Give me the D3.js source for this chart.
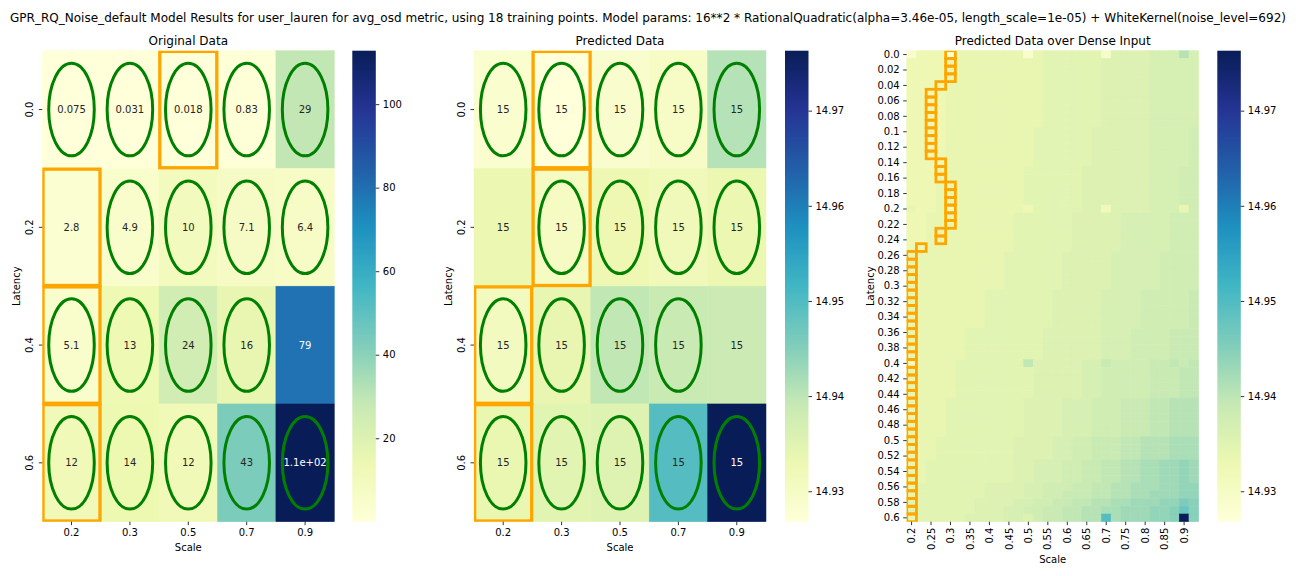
<!DOCTYPE html>
<html lang="en">
<head>
<meta charset="utf-8">
<script src="https://d3js.org/d3.v7.min.js"></script>
<style>
  body { margin: 0; background: #fff; }
  svg text { font-family: "DejaVu Sans", sans-serif; }
</style>
</head>
<body>
<svg width="1296" height="576"></svg>
<script>
const title = "GPR_RQ_Noise_default Model Results for user_lauren for avg_osd metric, using 18 training points. Model params: 16**2 * RationalQuadratic(alpha=3.46e-05, length_scale=1e-05) + WhiteKernel(noise_level=692)";

// coarse grid (scale x latency)
const scaleLabels = ["0.2", "0.3", "0.5", "0.7", "0.9"];
const latencyLabels = ["0.0", "0.2", "0.4", "0.6"];

const original = [
  [0.075, 0.031, 0.018, 0.83, 29],
  [2.8, 4.9, 10, 7.1, 6.4],
  [5.1, 13, 24, 16, 79],
  [12, 14, 12, 43, 112.8]
];

const predicted = [
  [14.9285, 14.9268, 14.9287, 14.9297, 14.9407],
  [14.9332, 14.9303, 14.9327, 14.9318, 14.9332],
  [14.9308, 14.9337, 14.9397, 14.9387, 14.9384],
  [14.9335, 14.9347, 14.9355, 14.9496, 14.9763]
];

// 1 = training point (green ellipse)
const trained = [
  [1, 1, 1, 1, 1],
  [0, 1, 1, 1, 1],
  [1, 1, 1, 1, 0],
  [1, 1, 1, 1, 1]
];

// orange boxes, [row, col]
const originalBoxes = [[0, 2], [1, 0], [2, 0], [3, 0]];
const predictedBoxes = [[0, 1], [1, 1], [2, 0], [3, 0]];

// dense grid: 61 latency rows x 30 scale columns
const denseXLabels = ["0.2", "0.25", "0.3", "0.35", "0.4", "0.45", "0.5", "0.55", "0.6", "0.65", "0.7", "0.75", "0.8", "0.85", "0.9"];
const denseYLabels = ["0.0", "0.02", "0.04", "0.06", "0.08", "0.1", "0.12", "0.14", "0.16", "0.18", "0.2",
  "0.22", "0.24", "0.26", "0.28", "0.3", "0.32", "0.34", "0.36", "0.38", "0.4",
  "0.42", "0.44", "0.46", "0.48", "0.5", "0.52", "0.54", "0.56", "0.58", "0.6"];

const denseBase = 14.9268, denseStep = 0.00099;
const levelChars = "0123456789abcdefghijklmnopqrstuvwxyzABCDEFGHIJKLMNOPQRSTUVWXYZ";
const denseRows = [
  "26660 77777 77278 88888 39999 aaaea",
  "66667 77777 77778 88888 99999 aaaaa",
  "66667 77777 77778 88888 99999 aaaaa",
  "66667 77777 77778 88888 99999 aaaaa",
  "66667 77777 77778 88888 99999 aaaaa",
  "66667 77777 77778 88888 99999 aaaaa",
  "66667 77777 77778 88888 99999 aaaaa",
  "66667 77777 77778 88888 99999 aaaaa",
  "66667 77777 77778 88888 99999 aaaaa",
  "66667 77777 77778 88888 99999 aaaaa",
  "66667 77777 77788 88889 99999 aaaab",
  "66667 77777 77788 88889 99999 aaaab",
  "66667 77777 77788 88889 99999 aaaab",
  "66667 77777 77788 88889 99999 aaaab",
  "66667 77777 77788 88889 99999 aaaab",
  "66677 77777 77888 88899 99999 aaabb",
  "66677 77777 77888 88899 99999 aaabb",
  "66677 77777 77888 88899 99999 aaabb",
  "66677 77777 77888 88899 99999 aaabb",
  "66677 77777 77888 88899 99999 aaabb",
  "76674 77777 77688 88899 59999 aaa7b",
  "66777 77777 78888 88999 99aaa aabbb",
  "66777 77777 78888 88999 99aaa aabbb",
  "66777 77777 78888 88999 99aaa aabbb",
  "66777 77777 78888 88999 99aaa aabbb",
  "66777 77777 78888 88999 99aaa aabbb",
  "77777 77777 88888 89999 9aaaa abbbb",
  "77777 77777 88888 89999 9aaaa abbbb",
  "77777 77777 88888 89999 9aaaa abbbb",
  "77777 77777 88888 89999 9aaaa abbbb",
  "77777 77777 88888 89999 9aaaa abbbb",
  "77777 77788 88888 99999 aaaab bbbbc",
  "77777 77788 88888 99999 aaaab bbbbc",
  "77777 77788 88888 99999 aaaab bbbbc",
  "77777 77788 88888 99999 aaaab bbbbc",
  "77777 77788 88888 99999 aaaab bbbbc",
  "77777 78888 88889 99999 aaabb bbccc",
  "77777 78888 88889 99999 aaabb bbccc",
  "77777 78888 88889 99999 aaabb bbccc",
  "77777 78888 88889 99999 aaabb bbccc",
  "47777 88888 88d99 999aa cbbbb ccdcd",
  "77777 88888 88899 999aa bbbbb cccdd",
  "77777 88888 88899 999aa bbbbb cccdd",
  "77777 88888 88899 999aa bbbbb cccdd",
  "77777 88888 88899 999aa bbbbb cccdd",
  "77778 88888 88999 9aaab bbccc ddeee",
  "77778 88888 88999 9aaab bbccc ddeee",
  "77778 88888 88999 9aaab bbccc ddeee",
  "77778 88888 88999 9aaab bbccc ddeee",
  "77778 88888 88999 9aaab bbccc ddeee",
  "77788 88888 89999 aabbc ccdde eefff",
  "77788 88888 89999 aabbc ccdde eefff",
  "77788 88888 89999 aabbc ccdde eefff",
  "77888 88888 899aa abbcc ddeef fgghg",
  "77888 88888 899aa abbcc ddeef fgghg",
  "77888 88888 899aa abbcc ddeef fgghg",
  "78888 88899 99aab bbccd deeff fgghh",
  "78888 88899 99aab bcccd deeff ggghh",
  "88888 88999 9aabb ccdde effgg ghhji",
  "88888 88999 aabbc cddee ffggg hhili",
  "78888 89999 aa9bc cddee nfggg hhiOi"
];

// orange path on the dense grid: [firstRow, lastRow, col]
const densePath = [[0, 3, 4], [4, 4, 3], [5, 13, 2], [14, 16, 3], [17, 22, 4], [23, 24, 3], [25, 25, 1], [26, 60, 0]];

const dense = denseRows.map(s => s.replace(/ /g, "").split("").map(ch => denseBase + levelChars.indexOf(ch) * denseStep));

const svg = d3.select("svg");
const TOP = 50.7, W = 292, H = 471, CBW = 23.5;

function cmap(lo, hi) {
  const cols = d3.schemeYlGnBu[9];
  return d3.scaleLinear()
    .domain(cols.map((_, i) => lo + (hi - lo) * i / 8))
    .range(cols)
    .interpolate(d3.interpolateRgb)
    .clamp(true);
}

function luminance(c) {
  const rgb = d3.rgb(c);
  const f = v => { v /= 255; return v <= 0.03928 ? v / 12.92 : Math.pow((v + 0.055) / 1.055, 2.4); };
  return 0.2126 * f(rgb.r) + 0.7152 * f(rgb.g) + 0.0722 * f(rgb.b);
}

function fmt2g(v) {
  return v.toPrecision(2).replace(/e([+-])(\d)$/, "e$10$2");
}

function styleAxis(g) {
  g.attr("font-family", "DejaVu Sans").attr("font-size", 10);
  g.select(".domain").remove();
  g.selectAll(".tick line").attr("stroke", "#000").attr("stroke-width", 0.8);
  g.selectAll(".tick text").attr("fill", "#000");
}

function panel(o) {
  const nr = o.data.length, nc = o.data[0].length;
  const x = d3.scaleBand().domain(d3.range(nc)).range([o.x0, o.x0 + W]);
  const y = d3.scaleBand().domain(d3.range(nr)).range([TOP, TOP + H]);
  const all = o.data.flat();
  const lo = d3.min(all), hi = d3.max(all);
  const color = cmap(lo, hi);
  const g = svg.append("g");

  const clipId = "clip" + Math.round(o.x0);
  svg.append("clipPath").attr("id", clipId)
    .append("rect").attr("x", o.x0).attr("y", TOP).attr("width", W).attr("height", H);

  const cells = o.data.flatMap((row, r) => row.map((v, c) => ({ r, c, v })));
  g.selectAll("rect.cell").data(cells).join("rect")
    .attr("class", "cell")
    .attr("x", d => x(d.c)).attr("y", d => y(d.r))
    .attr("width", x.bandwidth()).attr("height", y.bandwidth())
    .attr("fill", d => color(d.v))
    .attr("stroke", d => color(d.v)).attr("stroke-width", 0.5);

  if (o.annotate) {
    g.selectAll("text.annot").data(cells).join("text")
      .attr("class", "annot")
      .attr("x", d => x(d.c) + x.bandwidth() / 2)
      .attr("y", d => y(d.r) + y.bandwidth() / 2)
      .attr("dy", "0.35em")
      .attr("text-anchor", "middle")
      .attr("font-size", 10)
      .attr("fill", d => luminance(color(d.v)) > 0.408 ? "#262626" : "#fff")
      .text(d => fmt2g(d.v));
  }

  if (o.ellipses) {
    const pts = cells.filter(d => o.ellipses[d.r][d.c]);
    g.selectAll("ellipse").data(pts).join("ellipse")
      .attr("cx", d => x(d.c) + x.bandwidth() / 2)
      .attr("cy", d => y(d.r) + y.bandwidth() / 2)
      .attr("rx", x.bandwidth() * 0.39)
      .attr("ry", y.bandwidth() * 0.393)
      .attr("fill", "none")
      .attr("stroke", "#008000")
      .attr("stroke-width", 3);
  }

  const ins = o.boxInset;
  g.append("g").attr("clip-path", `url(#${clipId})`)
    .selectAll("rect").data(o.boxes).join("rect")
    .attr("x", d => x(d[1]) + ins).attr("y", d => y(d[0]) + ins)
    .attr("width", x.bandwidth() - 2 * ins).attr("height", y.bandwidth() - 2 * ins)
    .attr("fill", "none")
    .attr("stroke", "#ffa500")
    .attr("stroke-width", o.boxWidth);

  // axes
  const xAxis = d3.axisBottom(x).tickSize(3.5).tickPadding(3.5)
    .tickValues(d3.range(0, nc, o.xEvery))
    .tickFormat(i => o.xLabels[i / o.xEvery]);
  const gx = svg.append("g").attr("transform", `translate(0,${TOP + H})`).call(xAxis).call(styleAxis);

  const yAxis = d3.axisLeft(y).tickSize(3.5).tickPadding(3.5)
    .tickValues(d3.range(0, nr, o.yEvery))
    .tickFormat(i => o.yLabels[i / o.yEvery]);
  const gy = svg.append("g").attr("transform", `translate(${o.x0},0)`).call(yAxis).call(styleAxis);

  if (o.rotateY) {
    gy.selectAll(".tick text")
      .attr("x", 0).attr("dy", 0)
      .attr("text-anchor", "middle")
      .attr("transform", "translate(-9,0) rotate(-90)");
  }
  if (o.rotateX) {
    gx.selectAll(".tick text")
      .attr("y", 0).attr("dy", 0)
      .attr("text-anchor", "end")
      .attr("transform", "translate(3.6,6) rotate(-90)");
  }

  svg.append("text")
    .attr("x", o.x0 + W / 2).attr("y", 45)
    .attr("text-anchor", "middle").attr("font-size", 12)
    .text(o.title);
  svg.append("text")
    .attr("x", o.x0 + W / 2).attr("y", o.rotateX ? 563 : 550.5)
    .attr("text-anchor", "middle").attr("font-size", 10)
    .text("Scale");
  svg.append("text")
    .attr("transform", `translate(${o.yLabelX},${TOP + H / 2}) rotate(-90)`)
    .attr("text-anchor", "middle").attr("font-size", 10)
    .text("Latency");

  // colorbar
  const gid = "grad" + Math.round(o.x0);
  const grad = svg.append("defs").append("linearGradient").attr("id", gid)
    .attr("x1", 0).attr("y1", 1).attr("x2", 0).attr("y2", 0);
  grad.selectAll("stop").data(d3.range(0, 1.0001, 0.02)).join("stop")
    .attr("offset", t => t)
    .attr("stop-color", t => color(lo + (hi - lo) * t));
  svg.append("rect").attr("x", o.cbX).attr("y", TOP).attr("width", CBW).attr("height", H)
    .attr("fill", `url(#${gid})`);
  const cbScale = d3.scaleLinear().domain([lo, hi]).range([TOP + H, TOP]);
  svg.append("g").attr("transform", `translate(${o.cbX + CBW},0)`)
    .call(d3.axisRight(cbScale).tickSize(3.5).tickPadding(3.5).tickValues(o.cbTicks).tickFormat(o.cbFormat))
    .call(styleAxis);
}

panel({
  x0: 42.3, cbX: 352.3, yLabelX: 19.5,
  data: original, title: "Original Data",
  xLabels: scaleLabels, yLabels: latencyLabels, xEvery: 1, yEvery: 1,
  annotate: true, ellipses: trained, boxes: originalBoxes, boxInset: 0.7, boxWidth: 3.3,
  rotateY: true, rotateX: false,
  cbTicks: [20, 40, 60, 80, 100], cbFormat: d3.format("d")
});

panel({
  x0: 474, cbX: 785, yLabelX: 451.5,
  data: predicted, title: "Predicted Data",
  xLabels: scaleLabels, yLabels: latencyLabels, xEvery: 1, yEvery: 1,
  annotate: true, ellipses: trained, boxes: predictedBoxes, boxInset: 0.7, boxWidth: 3.3,
  rotateY: true, rotateX: false,
  cbTicks: [14.93, 14.94, 14.95, 14.96, 14.97], cbFormat: d3.format(".2f")
});

panel({
  x0: 906.7, cbX: 1217.3, yLabelX: 874,
  data: dense, title: "Predicted Data over Dense Input",
  xLabels: denseXLabels, yLabels: denseYLabels, xEvery: 2, yEvery: 2,
  annotate: false, ellipses: null,
  boxes: densePath.flatMap(([a, b, c]) => d3.range(a, b + 1).map(r => [r, c])),
  boxInset: 0, boxWidth: 2.8,
  rotateY: false, rotateX: true,
  cbTicks: [14.93, 14.94, 14.95, 14.96, 14.97], cbFormat: d3.format(".2f")
});

svg.append("text")
  .attr("x", 648).attr("y", 22)
  .attr("text-anchor", "middle").attr("font-size", 12)
  .attr("textLength", 1276).attr("lengthAdjust", "spacingAndGlyphs")
  .text(title);
</script>
</body>
</html>
